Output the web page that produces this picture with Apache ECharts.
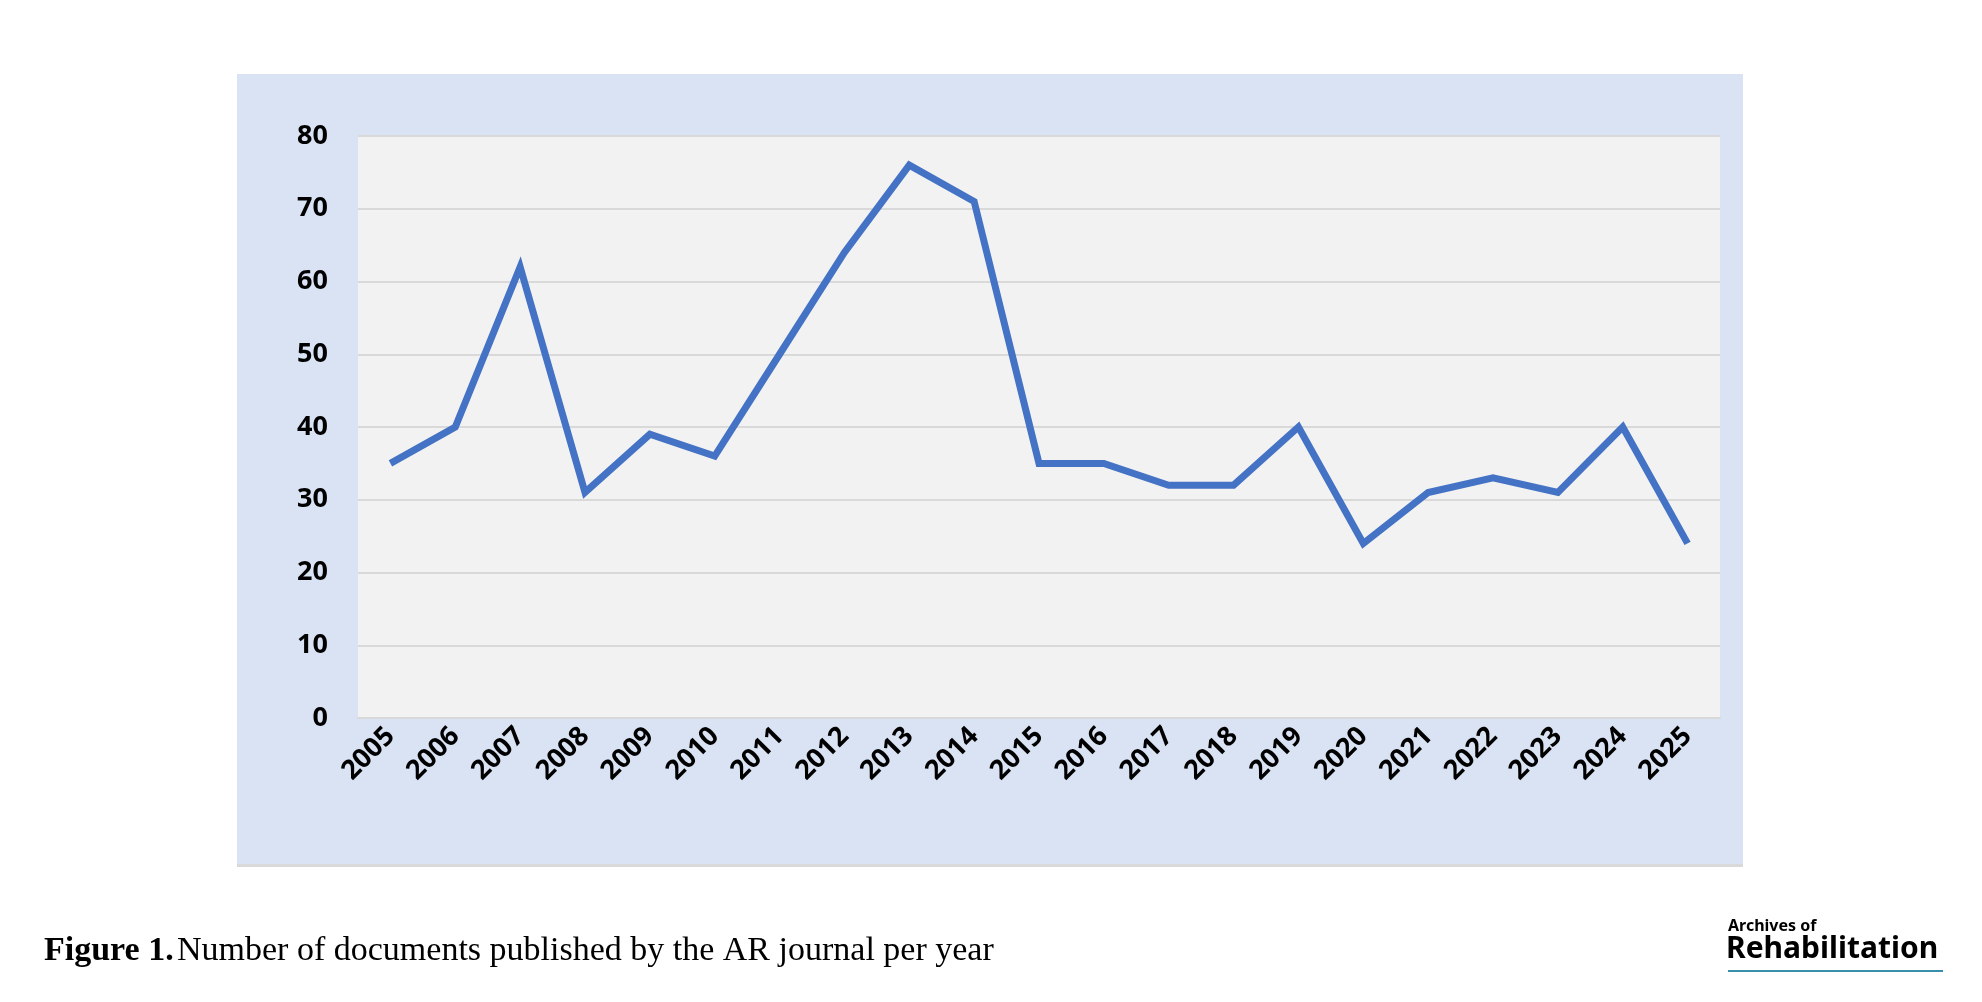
<!DOCTYPE html>
<html>
<head>
<meta charset="utf-8">
<script src="https://cdn.jsdelivr.net/npm/echarts@6/dist/echarts.min.js"></script>
<style>html,body{margin:0;padding:0;background:#fff}#chart{width:1982px;height:1002px}</style>
</head>
<body>
<div id="chart"></div>
<script>
var years = ['2005','2006','2007','2008','2009','2010','2011','2012','2013','2014','2015',
    '2016','2017','2018','2019','2020','2021','2022','2023','2024','2025'];
var documents = [35, 40, 62, 31, 39, 36, 50, 64, 76, 71, 35, 35, 32, 32, 40, 24, 31, 33, 31, 40, 24];
var yTicks = [0, 80, 10];

var chart = echarts.init(document.getElementById('chart'));
chart.setOption({
    animation: false,
    graphic: [
        { type: 'rect', z: -10, shape: { x: 237, y: 74, width: 1506, height: 790 },
          style: { fill: '#dae3f3' } },
        { type: 'rect', z: -10, shape: { x: 237, y: 864, width: 1506, height: 3 },
          style: { fill: '#d9d9d9' } },
        { type: 'text', left: 44, top: 934,
          style: { rich: {
              b: { fontFamily: 'Liberation Serif', fontWeight: 'bold', fontSize: 34, fill: '#000' },
              n: { fontFamily: 'Liberation Serif', fontSize: 34, fill: '#000' }
          }, text: '{b|Figure 1.} {n|Number of documents published by the AR journal per year}' } },
        { type: 'text', left: 1728, top: 918,
          style: { text: 'Archives of', fontFamily: 'Noto Sans', fontWeight: 'bold', fontSize: 16, fill: '#000' } },
        { type: 'text', left: 1726, top: 934,
          style: { text: 'Rehabilitation', fontFamily: 'Noto Sans', fontWeight: 'bold', fontSize: 30, fill: '#000' } },
        { type: 'rect', shape: { x: 1728, y: 970, width: 215, height: 2 }, style: { fill: '#3a8fa8' } }
    ],
    grid: { left: 358, right: 262, top: 136, bottom: 284, show: true,
        backgroundColor: '#f2f2f2', borderWidth: 0 },
    xAxis: {
        type: 'category', data: years, boundaryGap: true,
        axisLine: { show: true, lineStyle: { color: '#d9d9d9', width: 2 } },
        axisTick: { show: false },
        axisLabel: { rotate: 45, interval: 0, margin: 14, color: '#000',
            fontFamily: 'Noto Sans', fontWeight: 'bold', fontSize: 27 }
    },
    yAxis: {
        type: 'value', min: yTicks[0], max: yTicks[1], interval: yTicks[2],
        axisLine: { show: false }, axisTick: { show: false },
        splitLine: { lineStyle: { color: '#d9d9d9', width: 2 } },
        axisLabel: { color: '#000', margin: 30, fontFamily: 'Noto Sans', fontWeight: 'bold', fontSize: 27 }
    },
    series: [{
        type: 'line', data: documents, symbol: 'none',
        lineStyle: { color: '#4472c4', width: 7, join: 'miter' }
    }]
});
</script>
</body>
</html>
